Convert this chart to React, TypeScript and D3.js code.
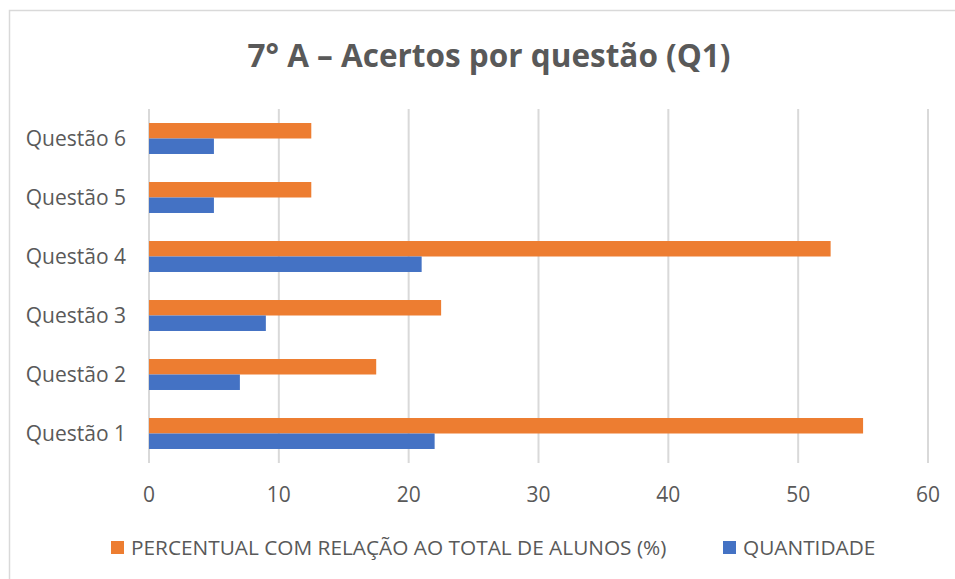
import * as d3 from 'd3';
import React from 'react';

const categories = ['Questão 1', 'Questão 2', 'Questão 3', 'Questão 4', 'Questão 5', 'Questão 6'];
const percentual = [55, 17.5, 22.5, 52.5, 12.5, 12.5];
const quantidade = [22, 7, 9, 21, 5, 5];
const xTicks = [0, 10, 20, 30, 40, 50, 60];
const seriesNames = ['PERCENTUAL COM RELAÇÃO AO TOTAL DE ALUNOS (%)', 'QUANTIDADE'];
const colors = ['#ED7D31', '#4472C4'];

export default function App() {
  const width = 955;
  const height = 579;
  const plot = { left: 149, right: 928, top: 109, bottom: 463 };
  const font = "'Open Sans', sans-serif";
  const textColor = '#595959';

  const xScale = d3.scaleLinear().domain([0, 60]).range([plot.left, plot.right]);
  // Questão 1 at the bottom, Questão 6 at the top
  const yScale = d3
    .scaleBand<string>()
    .domain([...categories].reverse())
    .range([plot.top, plot.bottom])
    .paddingInner(0.475)
    .paddingOuter(0.2375);
  const barH = yScale.bandwidth() / 2;

  return (
    <div style={{ position: 'absolute', left: 0, top: 0 }}>
      <svg width={width} height={height} style={{ display: 'block', background: '#fff' }}>
        <rect x={9.5} y={10.5} width={width + 20} height={height + 20} fill="#fff" stroke="#D9D9D9" strokeWidth={1.5} />

        <text
          x={489}
          y={67}
          textAnchor="middle"
          fontFamily={font}
          fontWeight={700}
          fontSize={31.5}
          fill={textColor}
        >
          7° A – Acertos por questão (Q1)
        </text>

        {xTicks.map(t => (
          <line key={t} x1={xScale(t)} x2={xScale(t)} y1={plot.top} y2={plot.bottom} stroke="#D9D9D9" strokeWidth={2} />
        ))}

        {categories.map((c, i) => {
          const y0 = yScale(c)!;
          return (
            <g key={c}>
              <rect x={xScale(0)} y={y0} width={xScale(percentual[i]) - xScale(0)} height={barH} fill={colors[0]} />
              <rect x={xScale(0)} y={y0 + barH} width={xScale(quantidade[i]) - xScale(0)} height={barH} fill={colors[1]} />
              <text
                x={126}
                y={y0 + barH}
                dy="0.35em"
                textAnchor="end"
                fontFamily={font}
                fontSize={21}
                fill={textColor}
              >
                {c}
              </text>
            </g>
          );
        })}

        {xTicks.map(t => (
          <text
            key={t}
            x={xScale(t)}
            y={495}
            dy="0.35em"
            textAnchor="middle"
            fontFamily={font}
            fontSize={21}
            fill={textColor}
          >
            {t}
          </text>
        ))}

        <g>
          <rect x={111} y={541} width={13} height={13} fill={colors[0]} />
          <text x={131} y={548} dy="0.35em" fontFamily={font} fontSize={20.8} fill={textColor}>
            {seriesNames[0]}
          </text>
          <rect x={723} y={541} width={13} height={13} fill={colors[1]} />
          <text x={743} y={548} dy="0.35em" fontFamily={font} fontSize={20.8} fill={textColor}>
            {seriesNames[1]}
          </text>
        </g>
      </svg>
    </div>
  );
}
